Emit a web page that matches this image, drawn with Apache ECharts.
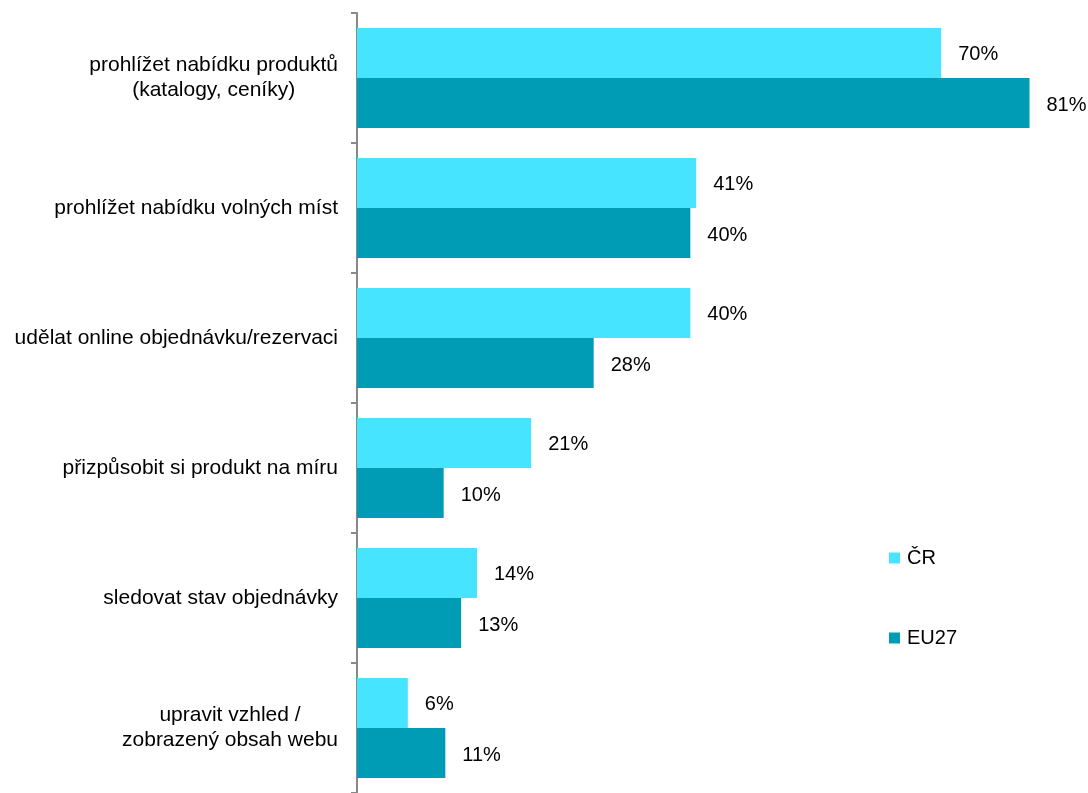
<!DOCTYPE html>
<html><head><meta charset="utf-8">
<script src="https://cdn.jsdelivr.net/npm/echarts@6/dist/echarts.min.js"></script>
<style>html,body{margin:0;padding:0;background:#fff}#c{width:1088px;height:793px}</style>
</head><body><div id="c"></div>
<script>
const categories = [
  "prohlížet nabídku produktů\n(katalogy, ceníky)",
  "prohlížet nabídku volných míst",
  "udělat online objednávku/rezervaci",
  "přizpůsobit si produkt na míru",
  "sledovat stav objednávky",
  "upravit vzhled /\nzobrazený obsah webu"
];
const seriesNames = ["ČR", "EU27"];
const crValues = [70.1, 40.7, 40.0, 20.9, 14.4, 6.1];
const euValues = [80.7, 40.0, 28.4, 10.4, 12.5, 10.6];
const colors = ["#47E4FF", "#009BB5"];

const font = "Liberation Sans, Arial, sans-serif";
const chart = echarts.init(document.getElementById('c'), null, {renderer: 'canvas'});
const labelOpt = {
  show: true, position: 'right', distance: 17, offset: [0, 2],
  color: '#000', fontSize: 20, fontFamily: font,
  formatter: p => Math.round(p.value) + '%'
};
chart.setOption({
  animation: false,
  backgroundColor: '#fff',
  grid: {left: 357, top: 13, width: 725, height: 781, containLabel: false},
  xAxis: {type: 'value', min: 0, max: 87, show: false},
  yAxis: {
    type: 'category', data: categories, inverse: true,
    axisLine: {show: true, lineStyle: {color: '#898989', width: 2}},
    axisTick: {show: true, length: 6, lineStyle: {color: '#898989', width: 2}},
    axisLabel: {color: '#000', fontSize: 21, fontFamily: font, margin: 19, lineHeight: 25,
                align: 'right',
                formatter: v => v.split('\n').map(l => '{c|' + l + '}').join('\n'),
                rich: {c: {align: 'center', color: '#000', fontSize: 21, fontFamily: font, lineHeight: 25}}},
    splitLine: {show: false}
  },
  legend: {
    orient: 'vertical', left: 884, top: 543, itemGap: 60,
    icon: 'rect', itemWidth: 11, itemHeight: 11,
    textStyle: {color: '#000', fontSize: 20, fontFamily: font, padding: [0,0,0,2]},
    data: seriesNames
  },
  series: [
    {name: seriesNames[0], type: 'bar', data: crValues, barGap: '0%', barCategoryGap: '23%',
     itemStyle: {color: colors[0]}, label: labelOpt},
    {name: seriesNames[1], type: 'bar', data: euValues, barGap: '0%', barCategoryGap: '23%',
     itemStyle: {color: colors[1]}, label: labelOpt}
  ]
});
</script></body></html>
